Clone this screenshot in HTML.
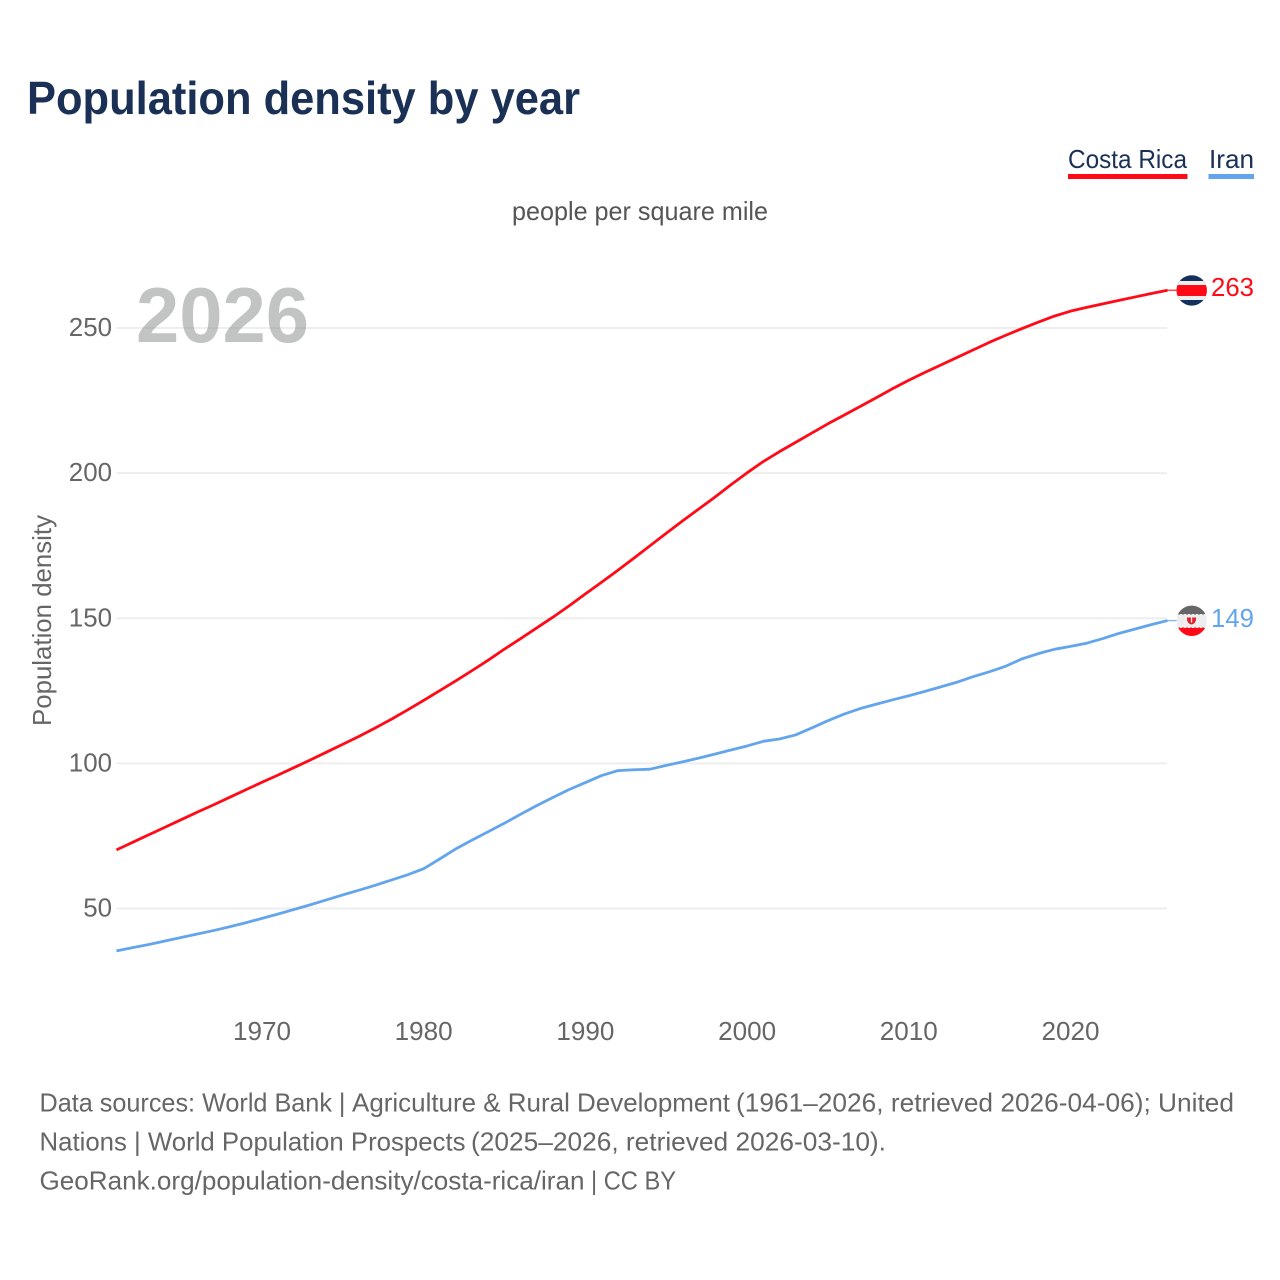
<!DOCTYPE html>
<html lang="en">
<head>
<meta charset="utf-8">
<title>Population density by year</title>
<style>
html,body{margin:0;padding:0;background:#fff;}
svg{display:block;}
text{font-family:"Liberation Sans",sans-serif;}
</style>
</head>
<body>
<svg id="chart" xmlns="http://www.w3.org/2000/svg" width="1280" height="1280" viewBox="0 0 1280 1280">
  <rect x="0" y="0" width="1280" height="1280" fill="#ffffff"/>
  <defs>
    <clipPath id="cr-clip"><circle cx="1191.7" cy="290.4" r="15.2"/></clipPath>
    <clipPath id="ir-clip"><circle cx="1191.7" cy="620.8" r="15.2"/></clipPath>
  </defs>
  <text x="27" y="114" font-size="46" font-weight="700" fill="#1a3054" textLength="553" lengthAdjust="spacingAndGlyphs">Population density by year</text>

  <g>
    <text x="1068" y="168" font-size="26" fill="#1a3054" textLength="119" lengthAdjust="spacingAndGlyphs">Costa Rica</text>
    <rect x="1068" y="174" width="119.5" height="5" fill="#ff0a16"/>
  </g>
  <g>
    <text x="1209" y="168" font-size="26" fill="#1a3054" textLength="45" lengthAdjust="spacingAndGlyphs">Iran</text>
    <rect x="1208.5" y="174" width="45.5" height="5" fill="#63a5ec"/>
  </g>

  <text x="512" y="220" font-size="26" fill="#555555" textLength="256" lengthAdjust="spacingAndGlyphs">people per square mile</text>
  <text transform="translate(51 726) rotate(-90)" x="0" y="0" font-size="26" fill="#666666" textLength="211" lengthAdjust="spacingAndGlyphs">Population density</text>

  <g id="grid"></g>
  <g id="yticks"></g>
  <g id="xticks"></g>

  <text x="136" y="342" font-size="78" font-weight="700" fill="#8f9393" fill-opacity="0.55" textLength="173" lengthAdjust="spacingAndGlyphs">2026</text>

  <g id="series"></g>

  <g clip-path="url(#cr-clip)">
    <rect x="1176" y="275" width="32" height="32" fill="#14305c"/>
    <rect x="1176" y="281" width="32" height="19" fill="#eeeeee"/>
    <rect x="1176" y="285" width="32" height="11" fill="#ff0a16"/>
  </g>
  <g clip-path="url(#ir-clip)">
    <rect x="1176" y="605" width="32" height="32" fill="#eeeeee"/>
    <rect x="1176" y="605" width="32" height="9.5" fill="#666666"/>
    <rect x="1176" y="627.5" width="32" height="9" fill="#ff0a16"/>
    <line x1="1176" y1="615" x2="1208" y2="615" stroke="#eeeeee" stroke-width="2" stroke-dasharray="2 2"/>
    <line x1="1176" y1="627" x2="1208" y2="627" stroke="#eeeeee" stroke-width="2" stroke-dasharray="2 2"/>
    <path d="M1187 617.5 h9 v1.5 q0 4.5 -4.5 5.5 q-4.500 -1 -4.500 -5.500 z" fill="#e0202a"/>
    <rect x="1190.900" y="617.500" width="1.300" height="5" fill="#eeeeee"/>
  </g>

  <text id="end-cr" x="1211" y="296" font-size="26" fill="#ff0a16" textLength="43" lengthAdjust="spacingAndGlyphs"></text>
  <text id="end-ir" x="1211" y="627" font-size="26" fill="#63a5ec" textLength="43" lengthAdjust="spacingAndGlyphs"></text>

  <g font-size="26" fill="#666666">
    <text x="39.500" y="1111.500" textLength="306" lengthAdjust="spacingAndGlyphs">Data sources: World Bank |</text>
    <text x="352" y="1111.500" textLength="378" lengthAdjust="spacingAndGlyphs">Agriculture &amp; Rural Development</text>
    <text x="736" y="1111.500" textLength="498" lengthAdjust="spacingAndGlyphs">(1961–2026, retrieved 2026-04-06); United</text>
    <text x="39.500" y="1150.500" textLength="426" lengthAdjust="spacingAndGlyphs">Nations | World Population Prospects</text>
    <text x="471" y="1150.500" textLength="415" lengthAdjust="spacingAndGlyphs">(2025–2026, retrieved 2026-03-10).</text>
    <text x="39.500" y="1189.500" textLength="545" lengthAdjust="spacingAndGlyphs">GeoRank.org/population-density/costa-rica/iran</text>
    <text x="591" y="1189.500" textLength="85" lengthAdjust="spacingAndGlyphs">| CC BY</text>
  </g>
</svg>
<script>
const startYear = 1961;
const costaRicaValues = [70.2,72.8,75.4,78.0,80.6,83.2,85.7,88.3,90.9,93.5,96.0,98.6,101.2,103.9,106.6,109.3,112.2,115.2,118.4,121.7,125.1,128.5,132.0,135.6,139.4,143.0,146.7,150.4,154.3,158.4,162.4,166.5,170.7,175.0,179.3,183.5,187.6,191.7,196.0,200.1,204.0,207.4,210.6,213.8,217.0,220.0,223.0,226.0,229.1,232.0,234.7,237.3,239.9,242.5,245.1,247.5,249.8,252.0,254.1,255.8,257.1,258.3,259.5,260.7,261.9,263.0];
const iranValues = [35.4,36.5,37.6,38.8,40.0,41.2,42.4,43.7,45.1,46.6,48.1,49.7,51.3,53.0,54.7,56.3,58.0,59.8,61.6,63.7,67.1,70.6,73.6,76.5,79.4,82.5,85.5,88.3,91.0,93.4,95.8,97.5,97.8,98.0,99.3,100.5,101.8,103.2,104.6,106.0,107.6,108.4,109.8,112.2,114.7,117.0,118.9,120.4,121.9,123.3,124.8,126.4,128.0,129.9,131.6,133.5,136.0,137.8,139.3,140.3,141.4,143.0,144.8,146.3,147.8,149.2];
const yTickValues = [50,100,150,200,250];
const xTickYears = [1970,1980,1990,2000,2010,2020];
const endLabelCostaRica = "263";
const endLabelIran = "149";

const NS = "http://www.w3.org/2000/svg";
function xScale(year){ return 262 + (year - 1970) * 16.17; }
function yScale(v){ return 908.5 - (v - 50) * 2.9025; }
function make(tag, attrs, parent){
  const el = document.createElementNS(NS, tag);
  for (const k in attrs) el.setAttribute(k, attrs[k]);
  parent.appendChild(el);
  return el;
}

const gridG = document.getElementById("grid");
const yG = document.getElementById("yticks");
const xG = document.getElementById("xticks");
const seriesG = document.getElementById("series");

yTickValues.forEach(function(v){
  const ln = make("line", {x1:xScale(startYear), x2:1167, y1:yScale(v), y2:yScale(v), stroke:"#eeeeee", "stroke-width":2}, gridG);
  
  
  const t = make("text", {x:112, y:yScale(v)+8, "text-anchor":"end", "font-size":26, fill:"#666666", textLength:String(v).length*14.4, lengthAdjust:"spacingAndGlyphs"}, yG);
  
  
  t.textContent = v;
});

xTickYears.forEach(function(y){
  const t = make("text", {x:xScale(y), y:1040, "text-anchor":"middle", "font-size":26, fill:"#666666", textLength:58, lengthAdjust:"spacingAndGlyphs"}, xG);
  
  
  t.textContent = y;
});

function drawSeries(values, color, name){
  const pts = values.map(function(v,i){ return xScale(startYear+i).toFixed(2)+","+yScale(v).toFixed(2); }).join(" ");
  const pl = make("polyline", {points:pts, fill:"none", stroke:color, "stroke-width":2.8, "stroke-linejoin":"round"}, seriesG);
  
  
  const lastY = yScale(values[values.length-1]);
  const lastX = xScale(startYear+values.length-1);
  const lead = make("line", {x1:lastX, x2:lastX+9, y1:lastY, y2:lastY, stroke:color, "stroke-width":1.4, "stroke-opacity":0.8}, seriesG);
  
  
}
drawSeries(costaRicaValues, "#ff0a16", "line-costa-rica");
drawSeries(iranValues, "#63a5ec", "line-iran");

document.getElementById("end-cr").textContent = endLabelCostaRica;
document.getElementById("end-ir").textContent = endLabelIran;
</script>
</body>
</html>
